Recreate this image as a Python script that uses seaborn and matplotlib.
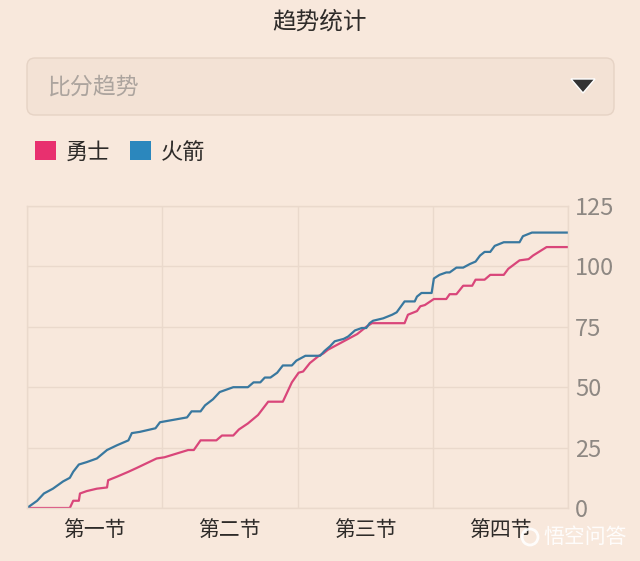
import numpy as np
import pandas as pd

import matplotlib
matplotlib.use("Agg")
import matplotlib.pyplot as plt
from matplotlib.patches import FancyBboxPatch, Polygon, Patch, Circle
import seaborn as sns

BG        = "#f8e8dc"
PINK      = "#e8306f"
BLUE      = "#2b87bd"
PINK_LINE = "#d9467a"
BLUE_LINE = "#39789f"
GRID      = "#ead9cc"

TEAMS    = ["勇士", "火箭"]
QUARTERS = ["第一节", "第二节", "第三节", "第四节"]
Y_TICKS  = [0, 25, 50, 75, 100, 125]

# game minute / running score
gsw_min = [0, 3.8, 4.1, 4.6, 4.7, 5.3, 6.2, 7.1, 7.2, 8.0, 9.0, 9.7, 10.6, 11.5,
           12.2, 14.3, 14.8, 15.4, 16.8, 17.3, 18.3, 18.8, 19.6, 20.5, 21.4, 22.7,
           23.5, 24.1, 24.5, 25.1, 25.9, 26.3, 26.7, 27.5, 28.1, 28.5, 29.3, 30.1,
           30.6, 33.5, 33.8, 34.6, 34.9, 35.3, 36.1, 37.2, 37.5, 38.1, 38.7, 39.5,
           39.8, 40.6, 41.1, 42.3, 42.7, 43.7, 44.5, 44.9, 46.1, 48.0]
gsw_pts = [0, 0, 3, 3, 6, 7, 8, 8.5, 11.5, 13, 15, 16.5, 18.5, 20.5,
           21, 24, 24, 28, 28, 30, 30, 32.5, 35, 38.5, 44, 44,
           52, 56, 56.5, 60, 63, 64, 65.5, 67.5, 69, 70, 72, 75,
           76.5, 76.5, 80, 81.5, 83.5, 84, 86.5, 86.5, 88.5, 88.5, 92, 92,
           94.5, 94.5, 96.5, 96.5, 99, 102.5, 103, 104.5, 108, 108]

hou_min = [0, 0.9, 1.5, 2.3, 3.2, 3.8, 4.1, 4.6, 5.3, 6.2, 7.1, 8.0, 9.0, 9.3,
           10.0, 11.4, 11.8, 14.2, 14.6, 15.4, 15.8, 16.5, 17.1, 18.3, 19.6, 20.1,
           20.7, 21.1, 21.6, 22.2, 22.7, 23.5, 23.9, 24.7, 26.0, 26.4, 26.9, 27.3,
           28.1, 28.5, 29.1, 29.7, 30.1, 30.4, 30.7, 31.6, 32.4, 32.8, 33.5, 34.4,
           34.6, 35.0, 35.9, 36.1, 36.6, 37.2, 37.5, 38.1, 38.7, 39.3, 39.8, 40.2,
           40.6, 41.1, 41.5, 42.3, 43.7, 44.0, 44.8, 48.0]
hou_pts = [0, 3, 6, 8, 11, 12.5, 15, 18, 19, 20.5, 24, 26, 28, 31,
           31.5, 33, 35.5, 37.5, 40, 40, 42.5, 45, 48, 50, 50, 52,
           52, 54, 54, 56, 59, 59, 61, 63, 63, 65, 67, 69,
           70, 71, 73.5, 74.5, 74.5, 76.5, 77.5, 78.5, 80, 81, 85.5, 85.5,
           87.5, 89, 89, 95, 96.5, 97.5, 97.5, 99.5, 99.5, 101, 102, 104.5,
           106, 106, 108.5, 110, 110, 112.5, 114, 114]

df = pd.concat([
    pd.DataFrame({"minute": gsw_min, "score": gsw_pts, "team": TEAMS[0]}),
    pd.DataFrame({"minute": hou_min, "score": hou_pts, "team": TEAMS[1]}),
], ignore_index=True)

sns.set_theme(style="white")
plt.rcParams["font.family"] = ["Noto Sans CJK SC", "DejaVu Sans"]

fig = plt.figure(figsize=(6.4, 5.61), dpi=100)
fig.patch.set_facecolor(BG)

# ── chart ──────────────────────────────────────────────────────────────────
ax = fig.add_axes([27/640, 1 - 508/561, 541/640, 302/561])
ax.set_facecolor(BG)
sns.lineplot(data=df, x="minute", y="score", hue="team",
             palette={TEAMS[0]: PINK_LINE, TEAMS[1]: BLUE_LINE},
             estimator=None, linewidth=1.6, legend=False, ax=ax)

ax.set_xlim(0, 48)
ax.set_ylim(0, 125)
ax.set_xticks([0, 12, 24, 36, 48])
ax.set_xticklabels([])
ax.set_xticks([6, 18, 30, 42], minor=True)
ax.set_xticklabels(QUARTERS, minor=True, fontsize=15, color="#2e2b29")
ax.tick_params(axis="x", which="both", length=0, pad=8)

ax.yaxis.tick_right()
ax.set_yticks(Y_TICKS)
ax.tick_params(axis="y", length=0, pad=5, labelsize=17, labelcolor="#8e8883")
for lbl in ax.get_yticklabels():
    lbl.set_fontweight("light")
ax.set_xlabel("")
ax.set_ylabel("")
ax.grid(True, which="major", color=GRID, lw=1)
for sp in ax.spines.values():
    sp.set_color(GRID)
    sp.set_linewidth(1)

# legend with square swatches
handles = [Patch(facecolor=PINK, edgecolor="none"), Patch(facecolor=BLUE, edgecolor="none")]
fig.legend(handles, TEAMS, loc="center left", bbox_to_anchor=(35/640, 1 - 152/561),
           ncol=2, frameon=False, fontsize=16, borderpad=0, borderaxespad=0,
           handlelength=0.95, handleheight=0.95, handletextpad=0.45,
           columnspacing=0.85, labelcolor="#2e2b29")

# ── header / dropdown / watermark (pixel space) ────────────────────────────
deco = fig.add_axes([0, 0, 1, 1], zorder=5)
deco.set_xlim(0, 640)
deco.set_ylim(561, 0)
deco.axis("off")
deco.patch.set_alpha(0)

deco.text(320, 22, "趋势统计", ha="center", va="center", fontsize=17, color="#2e2b29")
deco.add_patch(FancyBboxPatch((27, 58), 587, 57, boxstyle="round,pad=0,rounding_size=8",
                              fc="#f3e2d5", ec="#e6d3c5", lw=1))
deco.text(48, 87, "比分趋势", ha="left", va="center", fontsize=16.5, color="#aca49e")
deco.add_patch(Polygon([(571, 79), (595, 79), (583, 93)], closed=True, fc="#333333"))

deco.add_patch(Circle((530, 537), 8, fc="none", ec="white", lw=2, alpha=0.9))
deco.text(585, 537, "悟空问答", ha="center", va="center", fontsize=15, color="white", alpha=0.9)

fig.savefig("out.png", dpi=100, facecolor=BG)
plt.close(fig)
